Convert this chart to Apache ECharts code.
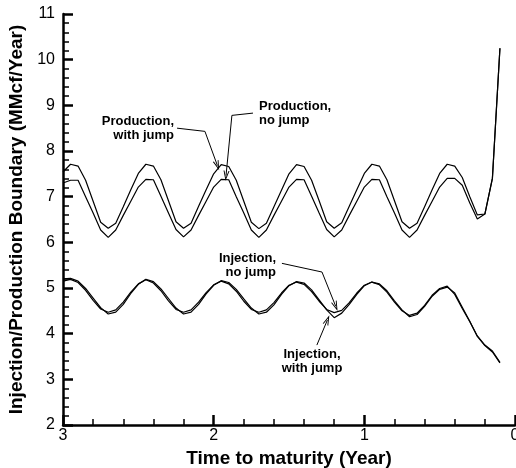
<!DOCTYPE html>
<html>
<head>
<meta charset="utf-8">
<script src="https://cdn.jsdelivr.net/npm/echarts@6/dist/echarts.min.js"></script>
<style>
  html, body { margin: 0; padding: 0; background: #fff; }
  #chart { width: 516px; height: 468px; }
</style>
</head>
<body>
<div id="chart"></div>
<script>
/* ===== Data ===== */
const times = [
  3.00, 2.95, 2.90, 2.85, 2.80, 2.75, 2.70, 2.65, 2.60, 2.55,
  2.50, 2.45, 2.40, 2.35, 2.30, 2.25, 2.20, 2.15, 2.10, 2.05,
  2.00, 1.95, 1.90, 1.85, 1.80, 1.75, 1.70, 1.65, 1.60, 1.55,
  1.50, 1.45, 1.40, 1.35, 1.30, 1.25, 1.20, 1.15, 1.10, 1.05,
  1.00, 0.95, 0.90, 0.85, 0.80, 0.75, 0.70, 0.65, 0.60, 0.55,
  0.50, 0.45, 0.40, 0.35, 0.30, 0.25, 0.20, 0.15, 0.10
]

// production boundary, with jump (upper curve)
const prodJump = [
  7.54, 7.71, 7.67, 7.36, 6.90, 6.44, 6.31, 6.42, 6.78, 7.15,
  7.51, 7.71, 7.67, 7.37, 6.91, 6.45, 6.31, 6.42, 6.79, 7.15,
  7.50, 7.70, 7.66, 7.36, 6.90, 6.44, 6.30, 6.42, 6.78, 7.14,
  7.50, 7.70, 7.66, 7.36, 6.91, 6.45, 6.31, 6.43, 6.79, 7.15,
  7.51, 7.71, 7.67, 7.37, 6.91, 6.45, 6.31, 6.42, 6.78, 7.15,
  7.51, 7.71, 7.67, 7.42, 7.00, 6.60, 6.62, 7.40, 10.25
]

// production boundary, no jump
const prodNoJump = [
  7.30, 7.36, 7.36, 7.00, 6.64, 6.27, 6.11, 6.27, 6.59, 6.90,
  7.21, 7.38, 7.37, 7.01, 6.64, 6.28, 6.12, 6.27, 6.59, 6.90,
  7.21, 7.38, 7.37, 7.00, 6.64, 6.27, 6.11, 6.27, 6.59, 6.90,
  7.21, 7.38, 7.37, 7.01, 6.64, 6.28, 6.12, 6.27, 6.59, 6.90,
  7.21, 7.38, 7.37, 7.00, 6.64, 6.27, 6.11, 6.27, 6.59, 6.90,
  7.21, 7.40, 7.40, 7.25, 6.86, 6.51, 6.62, 7.40, 10.25
]

// injection boundary, no jump
const injNoJump = [
  5.15, 5.19, 5.12, 4.95, 4.73, 4.54, 4.47, 4.52, 4.69, 4.91,
  5.09, 5.18, 5.11, 4.94, 4.72, 4.53, 4.47, 4.52, 4.69, 4.90,
  5.07, 5.15, 5.09, 4.93, 4.71, 4.53, 4.47, 4.52, 4.68, 4.89,
  5.06, 5.13, 5.08, 4.92, 4.71, 4.53, 4.46, 4.51, 4.68, 4.89,
  5.06, 5.13, 5.07, 4.91, 4.69, 4.50, 4.40, 4.45, 4.62, 4.84,
  4.99, 5.04, 4.86, 4.55, 4.26, 3.95, 3.75, 3.62, 3.37
]

// injection boundary, with jump
const injJump = [
  5.20, 5.21, 5.15, 4.99, 4.78, 4.57, 4.43, 4.47, 4.64, 4.88,
  5.08, 5.19, 5.14, 4.98, 4.77, 4.56, 4.43, 4.47, 4.64, 4.87,
  5.06, 5.16, 5.12, 4.97, 4.76, 4.56, 4.43, 4.47, 4.63, 4.86,
  5.05, 5.14, 5.11, 4.96, 4.74, 4.52, 4.35, 4.45, 4.64, 4.86,
  5.05, 5.13, 5.09, 4.94, 4.72, 4.52, 4.37, 4.42, 4.60, 4.82,
  4.97, 5.02, 4.89, 4.58, 4.27, 3.94, 3.74, 3.60, 3.36
]

// leader lines for the callouts, in data units [time, value]
const leaderProdJump = [[2.243, 8.50], [2.058, 8.43], [1.975, 7.68]]
const leaderProdNoJump = [[1.739, 8.83], [1.879, 8.78], [1.918, 7.46]]
const leaderInjNoJump = [[1.547, 5.54], [1.281, 5.35], [1.190, 4.60]]
const leaderInjJump = [[1.315, 3.75], [1.245, 4.30]]

const FONT = "'Liberation Sans', Arial, Helvetica, sans-serif"
const ARROW = 'path://M0,10 L5,0 L10,10 L8.4,10 L5,3.2 L1.6,10 Z'

const pairs = vals => times.map((t, i) => [t, vals[i]])

// polyline -> markLine segments, arrow only on the last one
const leader = pts => {
    const segs = []
    for (let i = 0; i < pts.length - 1; i++) {
        const last = i === pts.length - 2
        segs.push([
            { coord: pts[i], symbol: 'none' },
            { coord: pts[i + 1], symbol: last ? ARROW : 'none', symbolSize: last ? [6, 10] : 0 }
        ])
    }
    return segs
}

const lineSeries = (name, vals, pts) => ({
    name,
    type: 'line',
    data: pairs(vals),
    showSymbol: false,
    symbol: 'none',
    silent: true,
    lineStyle: { color: '#000', width: 1.2 },
    markLine: {
        silent: true,
        animation: false,
        label: { show: false },
        lineStyle: { color: '#000', width: 1, type: 'solid' },
        emphasis: { disabled: true },
        data: leader(pts)
    }
})

const axisCommon = {
    axisLine: { show: true, onZero: false, lineStyle: { color: '#000', width: 2.5 } },
    axisTick: { show: true, inside: true, length: 10, lineStyle: { color: '#000', width: 2.5 } },
    minorTick: { show: true, splitNumber: 5, length: 6, lineStyle: { color: '#000', width: 1.5 } },
    splitLine: { show: false }
}

const chart = echarts.init(document.getElementById('chart'))

const callout = (x, y, lines, align) => ({
    type: 'text',
    x, y,
    style: {
        text: lines.join('\n'),
        font: `bold 13px ${FONT}`,
        fill: '#000',
        align,
        verticalAlign: 'middle',
        lineHeight: 14
    }
})

chart.setOption({
    animation: false,
    textStyle: { fontFamily: FONT },
    grid: { left: 63, right: 1, top: 14, bottom: 43, containLabel: false, outerBoundsMode: 'none' },
    xAxis: {
        type: 'value',
        inverse: true,
        min: 0,
        max: 3,
        interval: 1,
        name: 'Time to maturity (Year)',
        nameLocation: 'middle',
        nameGap: 15,
        nameTextStyle: { fontSize: 19, fontWeight: 'bold', color: '#000', fontFamily: FONT },
        ...axisCommon,
        axisLabel: { fontSize: 16, color: '#000', margin: 3, fontFamily: FONT, showMinLabel: true, showMaxLabel: true }
    },
    yAxis: {
        type: 'value',
        min: 2,
        max: 11,
        interval: 1,
        name: 'Injection/Production Boundary (MMcf/Year)',
        nameLocation: 'middle',
        nameRotate: 90,
        nameGap: 34,
        nameTextStyle: { fontSize: 19, fontWeight: 'bold', color: '#000', fontFamily: FONT },
        ...axisCommon,
        axisLabel: { fontSize: 16, color: '#000', margin: 8, fontFamily: FONT, showMinLabel: true, showMaxLabel: true }
    },
    series: [
        lineSeries('Production, with jump', prodJump, leaderProdJump),
        lineSeries('Production, no jump', prodNoJump, leaderProdNoJump),
        lineSeries('Injection, no jump', injNoJump, leaderInjNoJump),
        lineSeries('Injection, with jump', injJump, leaderInjJump)
    ],
    graphic: [
        callout(174, 128, ['Production,', 'with jump'], 'right'),
        callout(259, 113, ['Production,', 'no jump'], 'left'),
        callout(276, 265, ['Injection,', 'no jump'], 'right'),
        callout(312, 361, ['Injection,', 'with jump'], 'center')
    ]
})
</script>
</body>
</html>
